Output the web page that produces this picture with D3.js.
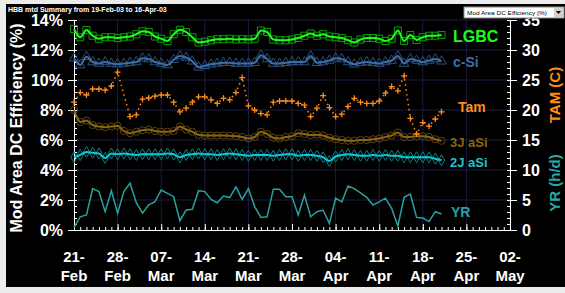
<!DOCTYPE html>
<html lang="en">
<head>
<meta charset="UTF-8">
<title>HBB mtd Summary</title>
<script src="https://d3js.org/d3.v7.min.js"></script>
<style>
  body { margin: 0; background: #ececec; }
  svg { display: block; font-family: Arial, "Liberation Sans", sans-serif; }
  .lab { font-weight: bold; fill: #fff; }
</style>
</head>
<body>
<svg id="chart" width="565" height="293"></svg>
<script>
// daily data, starting 21-Feb-03
const startDate = new Date(2003, 1, 21);
const weekLabels = [["21-", "Feb"], ["28-", "Feb"], ["07-", "Mar"], ["14-", "Mar"], ["21-", "Mar"], ["28-", "Mar"],
  ["04-", "Apr"], ["11-", "Apr"], ["18-", "Apr"], ["25-", "Apr"], ["02-", "May"]];
const effTicks = [0, 2, 4, 6, 8, 10, 12, 14];
const rightTicks = [0, 5, 10, 15, 20, 25, 30, 35];

const lgbc = [13.4, 12.85, 13.33, 12.95, 12.75, 12.85, 12.85, 12.8, 12.85, 12.9, 13.05, 13.25, 13.2, 12.9, 12.75,
  12.6, 13.05, 13.35, 13.2, 12.85, 12.5, 12.55, 12.65, 12.72, 12.72, 12.75, 12.7, 12.72, 12.7, 12.75,
  13.3, 13.2, 12.7, 12.65, 12.65, 12.7, 12.8, 12.95, 13.1, 12.95, 13.05, 12.9, 12.85, 12.8, 12.65,
  12.5, 12.7, 12.8, 12.8, 12.75, 12.6, 12.75, 13.3, 12.6, 13.0, 12.67, 12.85, 12.95, 12.95, 13.0];
const cSi = [11.45, 11.0, 11.55, 11.2, 11.1, 11.2, 11.1, 11.05, 11.1, 11.15, 11.2, 11.45, 11.4, 11.2, 11.1,
  11.0, 11.35, 11.6, 11.5, 11.25, 10.85, 10.95, 11.05, 11.1, 11.15, 11.15, 11.1, 11.1, 11.1, 11.15,
  11.65, 11.4, 11.1, 11.1, 11.15, 11.2, 11.2, 11.2, 11.6, 11.15, 11.2, 11.3, 11.45, 11.4, 11.2,
  11.05, 11.15, 11.2, 11.15, 11.1, 11.2, 11.3, 11.6, 11.1, 11.4, 11.3, 11.2, 11.3, 11.4, 11.25];
const aSi3J = [8.0, 7.2, 7.3, 7.0, 6.9, 6.85, 6.9, 6.95, 6.6, 6.45, 6.55, 6.65, 6.7, 6.6, 6.55,
  6.55, 6.6, 6.9, 6.7, 6.55, 6.35, 6.3, 6.3, 6.3, 6.3, 6.28, 6.25, 6.2, 6.1, 6.2,
  6.55, 6.4, 6.15, 6.1, 6.2, 6.25, 6.45, 6.4, 6.33, 6.35, 6.3, 6.15, 6.05, 6.0, 5.95,
  5.95, 6.0, 6.0, 6.05, 6.1, 6.2, 6.3, 6.5, 6.2, 6.2, 6.25, 6.25, 6.2, 6.05, 5.95];
const aSi2J = [4.85, 5.0, 5.2, 5.15, 5.1, 4.8, 5.1, 5.05, 5.1, 5.05, 5.0, 5.05, 5.05, 5.05, 5.05,
  5.1, 5.05, 4.85, 5.0, 5.05, 5.1, 5.05, 5.05, 5.0, 5.05, 5.1, 5.05, 5.0, 4.95, 5.0,
  5.0, 5.0, 4.95, 5.0, 5.05, 5.05, 4.95, 5.0, 5.0, 4.95, 4.85, 4.6, 4.9, 5.0, 5.05,
  5.0, 4.95, 4.95, 5.0, 4.95, 5.0, 4.95, 4.95, 4.85, 4.85, 4.85, 4.85, 4.85, 4.75, 4.65];
const tam = [21.3, 22.9, 22.5, 23.5, 23.5, 23.3, 24.0, 26.3, null, 18.9, 19.2, 21.8, 22.0, 22.3, 22.5,
  22.5, 21.3, 19.7, 20.3, 21.3, 22.2, 22.2, 21.7, 21.1, 21.95, 21.7, 22.9, 25.4, 20.7, 20.0,
  19.4, 19.2, 21.3, 21.5, 21.5, 21.5, 21.1, 20.8, 18.9, 20.3, 22.4, 20.4, 18.9, 19.3, 20.6,
  21.95, 21.3, 21.1, 21.1, 21.5, 22.8, 23.9, 23.2, 25.7, 18.6, 16.0, 17.9, 17.3, 18.5, 19.7];
const yr = [0.44, 2.2, 2.5, 6.9, 6.4, 3.05, 6.55, 2.8, 6.4, 7.8, 4.55, 2.8, 4.2, 4.7, 6.67,
  6.1, 5.55, 1.55, 3.33, 3.45, 6.55, 6.4, 5.1, 4.55, 5.67, 5.4, 7.2, 5.1, 6.9, 3.9,
  2.1, 2.2, 6.8, 6.8, 5.55, 5.55, 2.5, 5.83, 2.2, 3.05, 3.33, 1.1, 5.3, 4.7, 7.33,
  6.9, 6.2, 5.45, 4.17, 4.7, 5.3, 3.6, 0.67, 5.45, 6.0, 2.1, 2.0, 1.4, 3.05, 2.67];

const svg = d3.select("#chart");
const plotL = 74, plotR = 510, plotT = 20, plotB = 230;

const x = d3.scaleTime()
  .domain([startDate, d3.timeDay.offset(startDate, 70)])
  .range([plotL, plotR]);
const yL = d3.scaleLinear().domain([0, 14]).range([plotB, plotT]);
const yR = d3.scaleLinear().domain([0, 35]).range([plotB, plotT]);
const day = i => d3.timeDay.offset(startDate, i);

// black panel
svg.append("rect").attr("x", 6).attr("y", 4).attr("width", 559).attr("height", 283).attr("fill", "#000");

// title
svg.append("text").attr("x", 8).attr("y", 12).attr("fill", "#fff")
  .style("font-size", "7px").style("font-weight", "bold")
  .text("HBB mtd Summary from 19-Feb-03 to 16-Apr-03");

// grid
const weeks = d3.range(weekLabels.length).map(i => day(7 * i));
svg.append("g").selectAll("line").data(weeks.slice(1)).join("line")
  .attr("x1", d => x(d)).attr("x2", d => x(d)).attr("y1", plotT).attr("y2", plotB)
  .attr("stroke", "#1c1c44").attr("stroke-width", 1);
svg.append("g").selectAll("line").data(effTicks.slice(1)).join("line")
  .attr("x1", plotL).attr("x2", plotR).attr("y1", d => yL(d)).attr("y2", d => yL(d))
  .attr("stroke", "#1c1c44").attr("stroke-width", 1);

// axes
const xAxis = svg.append("g").attr("transform", `translate(0,${plotB})`)
  .call(d3.axisBottom(x).tickValues(d3.range(71).map(day)).tickSize(-3).tickFormat(""));
xAxis.select(".domain").attr("stroke", "#fff");
xAxis.selectAll(".tick line").attr("stroke", "#fff");
svg.append("g").attr("transform", `translate(0,${plotB})`)
  .call(d3.axisBottom(x).tickValues(weeks).tickSizeInner(-6).tickSizeOuter(0).tickFormat(""))
  .call(g => g.select(".domain").remove())
  .selectAll(".tick line").attr("stroke", "#fff");
const xl = svg.append("g").selectAll("text").data(weeks).join("text")
  .attr("class", "lab").attr("text-anchor", "middle").style("font-size", "15px")
  .attr("x", d => x(d));
xl.append("tspan").attr("y", 262).attr("x", d => x(d)).text((d, i) => weekLabels[i][0]);
xl.append("tspan").attr("y", 281).attr("x", d => x(d)).text((d, i) => weekLabels[i][1]);

const yAxisL = svg.append("g").attr("transform", `translate(${plotL},0)`)
  .call(d3.axisRight(yL).tickValues(d3.range(0, 14.01, 0.4)).tickSize(3).tickFormat(""));
yAxisL.select(".domain").attr("stroke", "#fff");
yAxisL.selectAll(".tick line").attr("stroke", "#fff");
svg.append("g").attr("transform", `translate(${plotL},0)`)
  .call(d3.axisLeft(yL).tickValues(effTicks).tickSizeInner(6).tickSizeOuter(0).tickFormat(d => d + "%").tickPadding(5))
  .call(g => g.select(".domain").remove())
  .call(g => g.selectAll(".tick line").attr("stroke", "#fff"))
  .selectAll("text").attr("class", "lab").attr("fill", "#fff").style("font-size", "16px");

const yAxisR = svg.append("g").attr("transform", `translate(${plotR},0)`)
  .call(d3.axisLeft(yR).tickValues(d3.range(0, 36)).tickSize(3).tickFormat(""));
yAxisR.select(".domain").attr("stroke", "#fff");
yAxisR.selectAll(".tick line").attr("stroke", "#fff");
svg.append("g").attr("transform", `translate(${plotR},0)`)
  .call(d3.axisRight(yR).tickValues(rightTicks).tickSizeInner(7).tickSizeOuter(0).tickPadding(5))
  .call(g => g.select(".domain").remove())
  .call(g => g.selectAll(".tick line").attr("stroke", "#fff"))
  .selectAll("text").attr("class", "lab").attr("fill", "#fff").style("font-size", "16px");

// axis titles
svg.append("text").attr("class", "lab").attr("text-anchor", "middle")
  .attr("transform", `translate(22,${(plotT + plotB) / 2 + 3}) rotate(-90)`)
  .style("font-size", "16px").text("Mod Area DC Efficiency (%)");
svg.append("text").attr("class", "lab").attr("text-anchor", "middle")
  .style("fill", "#ff8c1a")
  .attr("transform", "translate(560,95) rotate(-90)").style("font-size", "15px").text("TAM (C)");
svg.append("text").attr("class", "lab").attr("text-anchor", "middle")
  .style("fill", "#2aa8a8")
  .attr("transform", "translate(560,183) rotate(-90)").style("font-size", "15px").text("YR (h/d)");

// series
function drawSeries(values, yScale, color, dark, shape, size) {
  const pts = values.map((v, i) => ({ d: day(i), v })).filter(p => p.v != null);
  const line = d3.line().x(p => x(p.d)).y(p => yScale(p.v));
  const g = svg.append("g");
  g.append("path").datum(pts).attr("d", line).attr("fill", "none").attr("stroke", dark).attr("stroke-width", 1);
  g.selectAll("path.m").data(pts).join("path").attr("class", "m")
    .attr("transform", p => `translate(${x(p.d)},${yScale(p.v)})`)
    .attr("d", d3.symbol(shape, size)).attr("fill", "none").attr("stroke", dark).attr("stroke-width", 1);
  g.append("path").datum(pts).attr("d", line.curve(d3.curveMonotoneX)).attr("fill", "none")
    .attr("stroke", color).attr("stroke-width", 2);
}
drawSeries(lgbc, yL, "#1aff1a", "#0c9a0c", d3.symbolSquare, 50);
drawSeries(cSi, yL, "#3c6fa8", "#2c4f7c", d3.symbolTriangle, 40);
drawSeries(aSi3J, yL, "#8a6512", "#5e4510", d3.symbolCircle, 40);
drawSeries(aSi2J, yL, "#12c8d0", "#0a7f86", d3.symbolDiamond, 35);

// Tam: plus markers, dotted line
const tamPts = tam.map((v, i) => ({ d: day(i), v })).filter(p => p.v != null);
svg.append("path").datum(tamPts)
  .attr("d", d3.line().x(p => x(p.d)).y(p => yR(p.v)))
  .attr("fill", "none").attr("stroke", "#ff8c1a").attr("stroke-width", 1.5).attr("stroke-dasharray", "1.5,3.5");
svg.append("g").selectAll("path").data(tamPts).join("path")
  .attr("transform", p => `translate(${x(p.d)},${yR(p.v)})`)
  .attr("d", "M-3,0H3M0,-3V3").attr("stroke", "#ff8c1a").attr("stroke-width", 1.3);

// YR
const yrPts = yr.map((v, i) => ({ d: day(i), v }));
svg.append("path").datum(yrPts)
  .attr("d", d3.line().x(p => x(p.d)).y(p => yR(p.v)))
  .attr("fill", "none").attr("stroke", "#2aa0a0").attr("stroke-width", 1.5);

// series labels
const seriesLabels = [
  { t: "LGBC", x: 453, y: 42, c: "#1aff1a", s: 16 },
  { t: "c-Si", x: 453, y: 67, c: "#3c6fa8", s: 14 },
  { t: "Tam", x: 458, y: 112, c: "#ff8c1a", s: 14 },
  { t: "3J aSi", x: 450, y: 147, c: "#8a6512", s: 13 },
  { t: "2J aSi", x: 450, y: 167, c: "#22c4cc", s: 13 },
  { t: "YR", x: 451, y: 217, c: "#2aa0a0", s: 14 }
];
svg.append("g").selectAll("text").data(seriesLabels).join("text")
  .attr("x", d => d.x).attr("y", d => d.y).style("fill", d => d.c)
  .style("font-size", d => d.s + "px").style("font-weight", "bold").text(d => d.t);

// dropdown box, drawn last so it sits over the top of the right axis as in the original
const dd = svg.append("g");
dd.append("rect").attr("x", 464).attr("y", 7).attr("width", 100).attr("height", 11)
  .attr("fill", "#fff").attr("stroke", "#888");
dd.append("text").attr("x", 467).attr("y", 15).attr("fill", "#000").style("font-size", "6px")
  .attr("textLength", 80).attr("lengthAdjust", "spacingAndGlyphs")
  .text("Mod Area DC Efficiency (%)");
dd.append("rect").attr("x", 554).attr("y", 8).attr("width", 9).attr("height", 9).attr("fill", "#d4d0c8");
dd.append("path").attr("d", "M556,11 L561,11 L558.5,14 Z").attr("fill", "#000");
</script>
</body>
</html>
